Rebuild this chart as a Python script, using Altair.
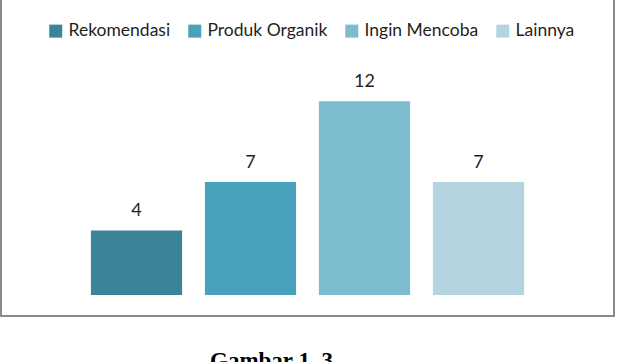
import altair as alt
import pandas as pd

categories = ["Rekomendasi", "Produk Organik", "Ingin Mencoba", "Lainnya"]
values = [4, 7, 12, 7]
colors = ["#3b8499", "#48a2bb", "#7dbbcf", "#b4d5e0"]
caption = ["Gambar 1. 3"]

df = pd.DataFrame({"kategori": categories, "jumlah": values})
cap_df = pd.DataFrame({"t": caption})

FONT = "Lato"

x_enc = alt.X("kategori:N", sort=categories, axis=None,
              scale=alt.Scale(range=[79.5, 535.5], paddingInner=0.2, paddingOuter=0.1))
y_enc = alt.Y("jumlah:Q", axis=None,
              scale=alt.Scale(domain=[0, 12], range=[295, 101.3], nice=False, zero=True))

bars = alt.Chart(df).mark_bar().encode(
    x=x_enc,
    y=y_enc,
    color=alt.Color("kategori:N", sort=categories,
                    scale=alt.Scale(domain=categories, range=colors),
                    legend=alt.Legend(title=None, orient="none", direction="horizontal",
                                      legendX=47, legendY=22, padding=0,
                                      symbolType="square", symbolSize=169,
                                      symbolStrokeWidth=0, labelOffset=4,
                                      columnPadding=15, labelFont=FONT,
                                      labelFontSize=17.5, labelColor="#1f1f1f",
                                      labelLimit=300)),
)

labels = alt.Chart(df).mark_text(baseline="alphabetic", dy=-14, font=FONT,
                                 fontSize=18, color="#1f1f1f").encode(
    x=x_enc, y=y_enc, text="jumlah:Q"
)

frame = alt.Chart(cap_df).mark_rect(fill=None, stroke="#8a8a8a", strokeWidth=2).encode(
    x=alt.value(1), x2=alt.value(614), y=alt.value(-10), y2=alt.value(316)
)

cap = alt.Chart(cap_df).mark_text(align="left", baseline="alphabetic",
                                  font="Liberation Serif", fontWeight="bold",
                                  fontSize=23, color="#000000").encode(
    x=alt.value(210), y=alt.value(368), text="t:N"
)

chart = alt.layer(frame, bars, labels, cap).properties(
    width=619, height=362, padding=0, autosize=alt.AutoSizeParams(type="none"),
    background="white"
).configure_view(stroke=None)

chart.save("out.html", embed_options={"renderer": "svg", "actions": False})
